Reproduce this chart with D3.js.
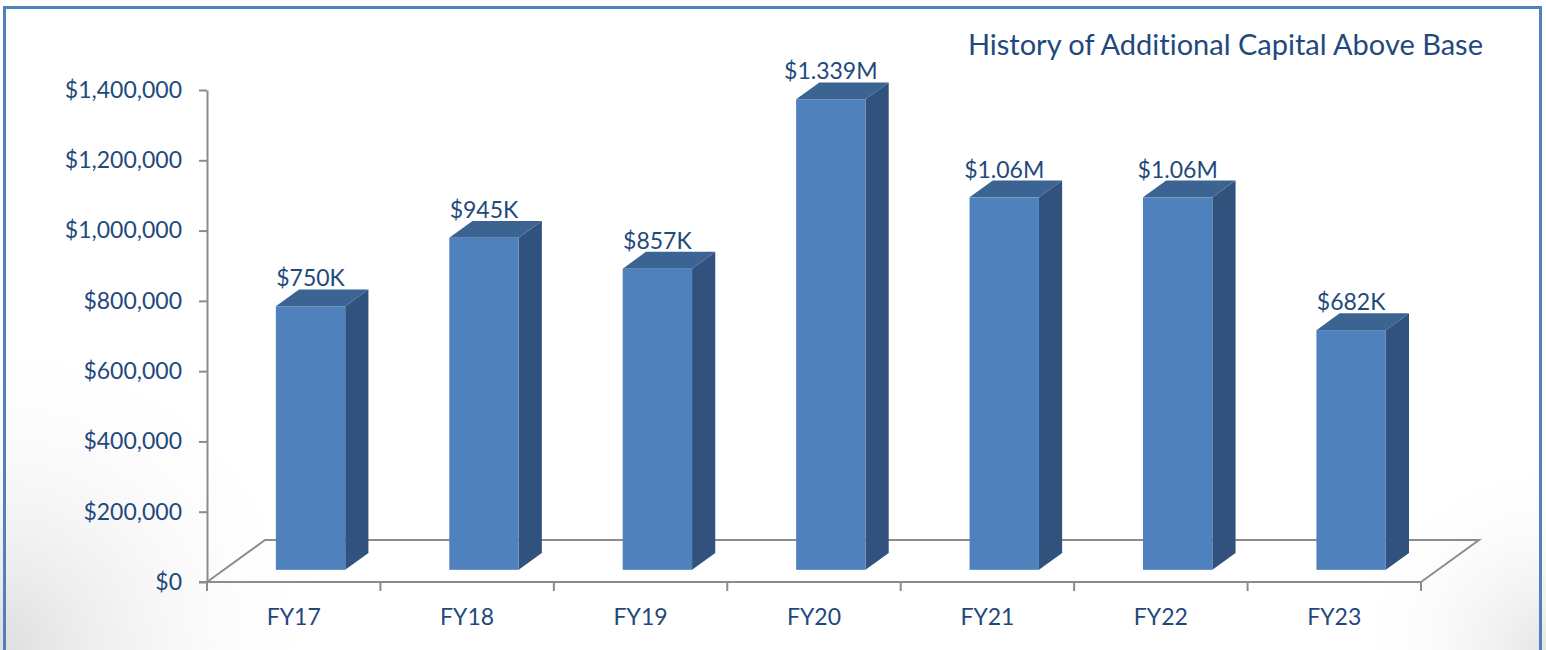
<!DOCTYPE html>
<html>
<head>
<meta charset="utf-8">
<script src="https://cdn.jsdelivr.net/npm/d3@7"></script>
<style>
    body { margin: 0; background: #fff; }
    text { font-family: Lato, "Open Sans", sans-serif; fill: #1f497d; font-variant-ligatures: none; }
</style>
</head>
<body>
<div id="chart"></div>
<script>
// chart data
const categories = ["FY17", "FY18", "FY19", "FY20", "FY21", "FY22", "FY23"];
const values = [750000, 945000, 857000, 1339000, 1060000, 1060000, 682000];
const valueLabels = ["$750K", "$945K", "$857K", "$1.339M", "$1.06M", "$1.06M", "$682K"];
const yTicks = [0, 200000, 400000, 600000, 800000, 1000000, 1200000, 1400000];
const title = "History of Additional Capital Above Base";

const width = 1546, height = 650;

let svg = d3.select("#chart")
    .append("svg")
    .attr("width", width)
    .attr("height", height);

//background shading in the lower corners
let defs = svg.append("defs");
let glow = defs.append("radialGradient")
    .attr("id", "cornerLeft")
    .attr("cx", 0).attr("cy", height).attr("r", 330)
    .attr("gradientUnits", "userSpaceOnUse");
glow.append("stop").attr("offset", 0).attr("stop-color", "#dedede");
glow.append("stop").attr("offset", 1).attr("stop-color", "#ffffff").attr("stop-opacity", 0);

let glow2 = defs.append("radialGradient")
    .attr("id", "cornerRight")
    .attr("cx", width).attr("cy", height).attr("r", 200)
    .attr("gradientUnits", "userSpaceOnUse");
glow2.append("stop").attr("offset", 0).attr("stop-color", "#e6e6e6");
glow2.append("stop").attr("offset", 1).attr("stop-color", "#ffffff").attr("stop-opacity", 0);

svg.append("rect").attr("width", width).attr("height", height).attr("fill", "#fff");
svg.append("rect").attr("width", width).attr("height", height).attr("fill", "url(#cornerLeft)");
svg.append("rect").attr("width", width).attr("height", height).attr("fill", "url(#cornerRight)");

//frame
svg.append("rect")
    .attr("x", 4.5).attr("y", 7.5)
    .attr("width", 1536).attr("height", 660)
    .attr("fill", "none")
    .attr("stroke", "#4f81bd")
    .attr("stroke-width", 3);

//scales
let x = d3.scaleBand().domain(categories).range([207, 1421]);
let y = d3.scaleLinear().domain([0, 1400000]).range([582, 90]);

//floor depth and where the bars sit inside it
let depthX = 58, depthY = -42;
let f0 = 0.29, f1 = 0.69;
let bw = x.bandwidth();
let barW = bw * 0.4;
let axisColor = "#8c8c8c";
let fontSize = "23px";

//floor
let x0 = x.range()[0], x1 = x.range()[1], y0 = y(0);
svg.append("path")
    .attr("d", `M${x0},${y0} L${x0 + depthX},${y0 + depthY} L${x1 + depthX},${y0 + depthY} L${x1},${y0}`)
    .attr("fill", "none")
    .attr("stroke", axisColor)
    .attr("stroke-width", 2);

//y axis
let yAxis = svg.append("g")
    .attr("transform", "translate(" + x0 + ",0)")
    .call(d3.axisLeft(y)
        .tickValues(yTicks)
        .tickSize(8)
        .tickSizeOuter(0)
        .tickPadding(17)
        .tickFormat(d => "$" + d3.format(",")(d)));
yAxis.selectAll("path, line").attr("stroke", axisColor).attr("stroke-width", 2);
yAxis.selectAll("text").style("font-size", fontSize).attr("fill", "#1f497d")
    .style("font-family", "Lato, sans-serif");

//x axis line and boundary ticks
svg.append("line")
    .attr("x1", x0 - 8).attr("x2", x1)
    .attr("y1", y0).attr("y2", y0)
    .attr("stroke", axisColor).attr("stroke-width", 2);
let bounds = categories.map(c => x(c)).concat([x1]);
svg.selectAll(".xtick")
    .data(bounds)
    .enter()
    .append("line")
    .attr("x1", d => d).attr("x2", d => d)
    .attr("y1", y0).attr("y2", y0 + 9)
    .attr("stroke", axisColor).attr("stroke-width", 2);

svg.selectAll(".xlabel")
    .data(categories)
    .enter()
    .append("text")
    .attr("x", d => x(d) + bw / 2)
    .attr("y", 625)
    .attr("text-anchor", "middle")
    .style("font-size", fontSize)
    .text(d => d);

//3d bars
let ox = depthX * f0, oy = depthY * f0;
let dx = depthX * (f1 - f0), dy = depthY * (f1 - f0);
let bars = svg.append("g").selectAll(".bar")
    .data(values)
    .enter()
    .append("g");

bars.each(function (v, i) {
    let g = d3.select(this);
    let left = x(categories[i]) + ox + (bw - barW) / 2;
    let right = left + barW;
    let bottom = y(0) + oy;
    let top = y(v) + oy;

    //side
    g.append("path")
        .attr("d", `M${right},${bottom} L${right + dx},${bottom + dy} L${right + dx},${top + dy} L${right},${top} Z`)
        .attr("fill", "#31527c");
    //top
    g.append("path")
        .attr("d", `M${left},${top} L${left + dx},${top + dy} L${right + dx},${top + dy} L${right},${top} Z`)
        .attr("fill", "#3c6493");
    //front
    g.append("rect")
        .attr("x", left).attr("y", top)
        .attr("width", barW).attr("height", bottom - top)
        .attr("fill", "#4f81bd");

    //value label
    g.append("text")
        .attr("x", left + barW / 2)
        .attr("y", top + dy - 3)
        .attr("text-anchor", "middle")
        .style("font-size", fontSize)
        .text(valueLabels[i]);
});

//title
svg.append("text")
    .attr("x", 1483)
    .attr("y", 55)
    .attr("text-anchor", "end")
    .style("font-size", "29px")
    .text(title);
</script>
</body>
</html>
